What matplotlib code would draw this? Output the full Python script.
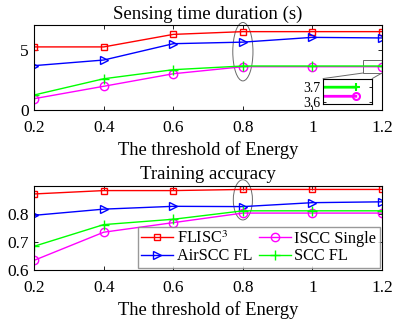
import matplotlib

matplotlib.use("Agg")
import matplotlib.pyplot as plt
from matplotlib.patches import Ellipse, Rectangle, ConnectionPatch

plt.rcParams["font.family"] = ["Liberation Serif", "DejaVu Serif"]
plt.rcParams["mathtext.fontset"] = "stix"
plt.rcParams["xtick.direction"] = "in"
plt.rcParams["ytick.direction"] = "in"
plt.rcParams["xtick.top"] = True
plt.rcParams["ytick.right"] = True

# threshold of energy
threshold = [0.2, 0.4, 0.6, 0.8, 1.0, 1.2]
xtick_labels = ["0.2", "0.4", "0.6", "0.8", "1", "1.2"]

# sensing time duration (s)
time_flisc = [5.3, 5.3, 6.35, 6.58, 6.58, 6.58]
time_airscc = [3.73, 4.2, 5.57, 5.7, 6.1, 6.05]
time_iscc = [0.96, 2.0, 3.05, 3.64, 3.64, 3.64]
time_scc = [1.27, 2.63, 3.39, 3.7, 3.7, 3.7]

# training accuracy
acc_flisc = [0.871, 0.883, 0.883, 0.887, 0.887, 0.887]
acc_airscc = [0.795, 0.817, 0.827, 0.826, 0.840, 0.843]
acc_iscc = [0.635, 0.735, 0.769, 0.803, 0.803, 0.803]
acc_scc = [0.685, 0.762, 0.781, 0.811, 0.811, 0.811]

styles = [
    ("FLISC$^3$", "red", "s", 5),
    ("AirSCC FL", "blue", ">", 6),
    ("ISCC Single", "magenta", "o", 6),
    ("SCC FL", "lime", "+", 7),
]

fig = plt.figure(figsize=(3.93, 3.22), dpi=100)
ax_time = fig.add_axes([0.087, 0.658, 0.885, 0.263])
ax_acc = fig.add_axes([0.087, 0.161, 0.885, 0.262])

for ax, series in (
    (ax_time, [time_flisc, time_airscc, time_iscc, time_scc]),
    (ax_acc, [acc_flisc, acc_airscc, acc_iscc, acc_scc]),
):
    for (label, color, marker, ms), ys in zip(styles, series):
        ax.plot(threshold, ys, color=color, marker=marker, ms=ms,
                mfc="none", mew=1, lw=1, label=label)
    ax.set_xlim(0.2, 1.2)
    ax.set_xticks(threshold)
    ax.set_xticklabels(xtick_labels)
    ax.tick_params(labelsize=12.5, length=3, width=0.6)
    ax.tick_params(axis="x", pad=7)
    ax.tick_params(axis="y", pad=4)
    ax.set_xlabel("The threshold of Energy", fontsize=13.3, labelpad=4)
    for sp in ax.spines.values():
        sp.set_linewidth(0.8)

ax_time.set_ylim(0, 7.1)
ax_time.set_yticks([0, 5])
ax_time.set_title("Sensing time duration (s)", fontsize=13.5, pad=5)
ax_acc.set_ylim(0.6, 0.9)
ax_acc.set_yticks([0.6, 0.7, 0.8])
ax_acc.set_title("Training accuracy", fontsize=13.5, pad=5)

# ellipses highlighting threshold 0.8
ax_time.add_patch(Ellipse((0.8, 4.9), 0.058, 4.9, fill=False, ec="dimgray",
                          lw=0.7, clip_on=False))
ax_acc.add_patch(Ellipse((0.8, 0.85), 0.055, 0.143, fill=False, ec="dimgray",
                         lw=0.7, clip_on=False))

# zoomed inset on the overlapping tail
ax_time.add_patch(Rectangle((1.145, 3.11), 0.055, 1.1, fill=False,
                            ec="dimgray", lw=0.7, clip_on=False))
axins = fig.add_axes([0.822, 0.677, 0.125, 0.079])
axins.plot(threshold, time_scc, color="lime", marker="+", ms=6, mew=1.5, lw=2)
axins.plot(threshold, time_iscc, color="magenta", marker="o", ms=5,
           mfc="none", mew=1.5, lw=2)
axins.set_xlim(1.14, 1.23)
axins.set_ylim(3.589, 3.757)
axins.set_xticks([])
axins.set_yticks([3.6, 3.7])
axins.tick_params(labelsize=10, length=2, width=0.6, pad=2)
for sp in axins.spines.values():
    sp.set_linewidth(0.8)
for xa, xb in ((1.145, 0.0), (1.2, 1.0)):
    fig.add_artist(ConnectionPatch((xa, 3.11), (xb, 1.0), "data", "axes fraction",
                                   axesA=ax_time, axesB=axins, color="dimgray",
                                   lw=0.7))

ax_acc.legend(ncol=2, loc="lower right", bbox_to_anchor=(1.0, 0.0),
              fontsize=11.7, frameon=True, fancybox=False, edgecolor="gray",
              borderpad=0.2, labelspacing=0.1, columnspacing=0.4,
              handletextpad=0.2, borderaxespad=0.15)

fig.savefig("out.png", dpi=100)
plt.close(fig)
